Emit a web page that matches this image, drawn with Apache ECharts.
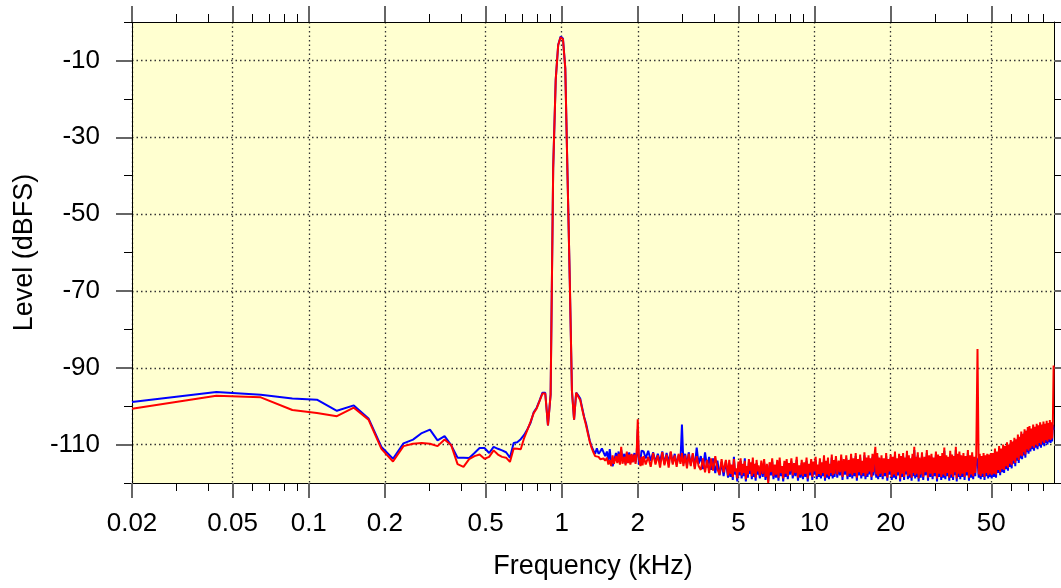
<!DOCTYPE html>
<html>
<head>
<meta charset="utf-8">
<title>Spectrum</title>
<script src="https://cdn.jsdelivr.net/npm/echarts/dist/echarts.min.js"></script>
<style>
    html, body { margin: 0; padding: 0; background: #ffffff; }
    #chart { width: 1061px; height: 588px; }
</style>
</head>
<body>
<div id="chart"></div>
<script>
// tick positions
var xMajor = [0.02, 0.05, 0.1, 0.2, 0.5, 1, 2, 5, 10, 20, 50];
var xMinor = [0.03, 0.04, 0.06, 0.07, 0.08, 0.09, 0.3, 0.4, 0.6, 0.7, 0.8, 0.9,
    3, 4, 6, 7, 8, 9, 30, 40, 60, 70, 80];
var yMajor = [-110, -90, -70, -50, -30, -10];
var yMinor = [-120, -100, -80, -60, -40, -20, 0];

// low band, fft bins (kHz)
var freqLow = [0.02, 0.0431, 0.0646, 0.0861, 0.1077, 0.1292, 0.1507, 0.1723, 0.1938, 0.2153,
    0.2369, 0.2584, 0.2799, 0.3015, 0.3230, 0.3445, 0.3661, 0.3876, 0.4091, 0.4307,
    0.4522, 0.4737, 0.4953, 0.5168, 0.5383, 0.5599, 0.5814, 0.6029, 0.6245, 0.6460,
    0.6675, 0.6891, 0.7106, 0.7321, 0.7537, 0.7752, 0.7967, 0.8183, 0.8398, 0.8613,
    0.8829, 0.9044, 0.9259, 0.9475, 0.9690, 0.9905, 1.0121, 1.0336, 1.0551, 1.0767,
    1.0982, 1.1197, 1.1413, 1.1628, 1.1843, 1.2059, 1.2274, 1.2489, 1.2705, 1.2920,
    1.3135, 1.3351, 1.3566, 1.3781, 1.3997, 1.4212, 1.4427, 1.4643, 1.4858];
var blueLow = [-98.9, -96.3, -97.0, -98.0, -98.3, -101.2, -99.8, -103.2, -110.6, -113.7,
    -109.7, -108.7, -107.0, -106.1, -108.9, -107.8, -110.2, -113.4, -113.4, -113.5,
    -112.2, -110.9, -110.9, -112.2, -110.6, -111.1, -111.5, -112.0, -113.4, -109.6,
    -109.4, -108.6, -107.5, -106.0, -104.3, -101.6, -100.4, -98.5, -96.5, -96.5,
    -105.0, -97.0, -38, -15, -6, -3.8, -4.3, -12, -40, -67,
    -96, -103.5, -96.5, -97.2, -98.0, -100.5, -102.8, -104.5, -106.8, -109.0,
    -110.5, -111.5, -112.4, -111.0, -112.4, -111.8, -111.0, -111.3, -113.0];
var redLow = [-100.7, -97.3, -97.7, -101.0, -101.8, -102.6, -100.4, -103.5, -111.1, -114.4,
    -110.4, -109.8, -109.6, -109.8, -110.4, -108.7, -110.2, -115.1, -115.8, -113.8,
    -113.0, -112.6, -113.7, -113.2, -111.5, -112.6, -113.2, -113.4, -114.5, -111.0,
    -111.1, -111.2, -108.3, -106.2, -104.0, -101.8, -100.6, -98.6, -96.7, -96.7,
    -105.0, -97.0, -38, -15, -6, -4.0, -4.5, -12, -40, -67,
    -96, -103.5, -96.5, -97.5, -98.4, -100.8, -103.0, -105.0, -107.2, -109.3,
    -110.8, -112.0, -113.0, -113.4, -113.2, -113.8, -114.0, -113.6, -114.2];

// 1.5 - 4.6 kHz, harmonics at 2 and 3 kHz
var freqMid = [1.51, 1.53, 1.55, 1.57, 1.59, 1.61, 1.64, 1.66, 1.68, 1.70,
    1.72, 1.74, 1.77, 1.79, 1.81, 1.83, 1.85, 1.87, 1.89, 1.91,
    1.94, 1.96, 1.98, 2.00, 2.02, 2.05, 2.07, 2.09, 2.11, 2.15,
    2.2, 2.25, 2.3, 2.35, 2.4, 2.45, 2.5, 2.55, 2.6, 2.65,
    2.7, 2.75, 2.8, 2.85, 2.9, 2.95, 2.99, 3.03, 3.08, 3.13,
    3.18, 3.24, 3.3, 3.36, 3.42, 3.48, 3.55, 3.62, 3.69, 3.76,
    3.83, 3.9, 3.97, 4.05, 4.13, 4.21, 4.29, 4.37, 4.46, 4.55];
var blueMid = [-111.8, -114.2, -111.2, -115.0, -115.6, -114.4, -112.2, -114.2, -111.8, -114.6,
    -111.4, -113.8, -112.4, -115.0, -112.2, -114.2, -112.0, -114.8, -112.6, -114.4,
    -112.2, -114.6, -112.6, -106.0, -115.2, -114.0, -111.6, -111.2, -111.8, -113.6,
    -111.6, -114.2, -112.0, -114.6, -112.4, -114.4, -111.8, -115.0, -112.2, -114.6,
    -112.0, -114.8, -112.4, -115.2, -112.8, -114.4, -104.8, -114.8, -112.4, -115.4,
    -112.0, -115.2, -112.6, -115.8, -110.8, -115.0, -113.0, -116.4, -112.0, -116.0,
    -113.2, -116.6, -113.6, -117.4, -114.2, -118.0, -114.6, -118.2, -114.4, -118.6];
var redMid = [-113.4, -115.2, -114.0, -115.6, -112.8, -115.0, -113.0, -114.8, -112.4, -115.2,
    -110.6, -115.0, -113.2, -115.4, -111.8, -114.8, -112.6, -115.2, -112.4, -114.6,
    -112.6, -115.0, -112.2, -103.4, -113.4, -115.6, -113.2, -115.4, -113.0, -115.2,
    -113.2, -115.8, -112.2, -115.2, -112.8, -116.0, -112.0, -115.4, -112.6, -116.0,
    -111.8, -115.2, -112.8, -115.8, -112.4, -115.0, -112.2, -115.6, -112.8, -116.2,
    -112.4, -115.6, -112.2, -116.4, -113.0, -115.6, -116.6, -113.6, -117.2, -114.0,
    -117.4, -113.6, -116.8, -113.0, -116.4, -117.8, -113.8, -117.2, -114.0, -118.0];

// 4.6 kHz up to nyquist, dense noise floor, 44.1 kHz spur
var freqTop = [4.60, 4.65, 4.70, 4.75, 4.80, 4.85, 4.90, 4.95, 5.00, 5.05,
    5.10, 5.15, 5.20, 5.25, 5.30, 5.35, 5.40, 5.45, 5.50, 5.55,
    5.60, 5.65, 5.70, 5.75, 5.80, 5.85, 5.90, 5.95, 6.00,
    6.08, 6.16, 6.24, 6.32, 6.40, 6.48, 6.56, 6.64, 6.72, 6.80,
    6.88, 6.96, 7.04, 7.12, 7.20, 7.28, 7.36, 7.44, 7.52, 7.60,
    7.68, 7.76, 7.84, 7.92, 8.00,
    8.1, 8.2, 8.3, 8.4, 8.5, 8.6, 8.7, 8.8, 8.9, 9.0,
    9.1, 9.2, 9.3, 9.4, 9.5, 9.6, 9.7, 9.8, 9.9, 10.0,
    10.1, 10.2, 10.3, 10.4, 10.5, 10.6, 10.7, 10.8, 10.9, 11.0,
    11.1, 11.2, 11.3, 11.4, 11.5, 11.6, 11.7, 11.8, 11.9, 12.0,
    12.15, 12.3, 12.45, 12.6, 12.75, 12.9, 13.05, 13.2, 13.35, 13.5,
    13.65, 13.8, 13.95, 14.1, 14.25, 14.4, 14.55, 14.7, 14.85, 15.0,
    15.15, 15.3, 15.45, 15.6, 15.75, 15.9, 16.05, 16.2, 16.35, 16.5,
    16.65, 16.8, 16.95, 17.1, 17.25, 17.4, 17.55, 17.7, 17.85, 18.0,
    18.2, 18.4, 18.6, 18.8, 19.0, 19.2, 19.4, 19.6, 19.8, 20.0,
    20.2, 20.4, 20.6, 20.8, 21.0, 21.2, 21.4, 21.6, 21.8, 22.0,
    22.2, 22.4, 22.6, 22.8, 23.0, 23.2, 23.4, 23.6, 23.8, 24.0,
    24.2, 24.4, 24.6, 24.8, 25.0, 25.2, 25.4, 25.6, 25.8, 26.0,
    26.3, 26.6, 26.9, 27.2, 27.5, 27.8, 28.1, 28.4, 28.7, 29.0,
    29.3, 29.6, 29.9, 30.2, 30.5, 30.8, 31.1, 31.4, 31.7, 32.0,
    32.3, 32.6, 32.9, 33.2, 33.5, 33.8, 34.1, 34.4, 34.7, 35.0,
    35.3, 35.6, 35.9, 36.2, 36.5, 36.8, 37.1, 37.4, 37.7, 38.0,
    38.4, 38.8, 39.2, 39.6, 40.0, 40.4, 40.8, 41.2, 41.6, 42.0,
    42.4, 42.8, 43.2, 43.6,
    44.1,
    44.6, 45.0, 45.4, 45.8, 46.2, 46.6, 47.0, 47.4, 47.8, 48.2,
    48.6, 49.0, 49.4, 49.8, 50.2,
    50.7, 51.2, 51.7, 52.2, 52.7, 53.2, 53.7, 54.2, 54.7, 55.2,
    55.7, 56.2, 56.7, 57.2, 57.7, 58.2, 58.7, 59.2, 59.7, 60.2,
    60.7, 61.2, 61.7, 62.2, 62.7, 63.2, 63.7, 64.2, 64.7, 65.2,
    65.7, 66.2, 66.7, 67.2, 67.7, 68.2, 68.7, 69.2, 69.7, 70.2,
    70.8, 71.4, 72.0, 72.6, 73.2, 73.8, 74.4, 75.0, 75.6, 76.2,
    76.8, 77.4, 78.0, 78.6, 79.2, 79.8, 80.4, 81.0, 81.6, 82.2,
    82.8, 83.4, 84.0, 84.6, 85.2, 85.8, 86.4, 87.0, 87.6, 88.2];
var blueTop = [-114.8, -118.4, -116.0, -119.2, -113.2, -117.8, -117.0, -119.6, -115.2, -118.0,
    -114.2, -118.8, -115.8, -118.2, -113.6, -119.6, -116.4, -118.6, -114.6, -117.6,
    -115.4, -119.0, -114.2, -118.4, -115.8, -119.4, -114.8, -117.8, -116.2,
    -118.8, -115.0, -118.4, -114.6, -119.2, -115.8, -119.6, -115.4, -118.0, -114.4,
    -119.0, -116.0, -118.6, -114.8, -119.4, -114.2, -118.2, -116.4, -119.6, -115.0,
    -118.4, -114.6, -119.0, -115.6, -117.8,
    -114.4, -118.8, -115.6, -118.2, -114.0, -119.4, -116.2, -118.6, -114.8, -119.0,
    -115.4, -118.4, -114.2, -119.6, -115.8, -118.0, -114.6, -119.2, -115.2, -117.8,
    -114.0, -119.0, -116.0, -118.4, -114.4, -118.8, -115.4, -118.2, -113.6, -119.4,
    -115.0, -118.6, -114.2, -119.0, -115.8, -118.2, -113.4, -118.8, -114.8, -118.4,
    -113.8, -118.6, -115.0, -118.0, -113.4, -119.2, -114.6, -117.8, -113.6, -119.0,
    -114.8, -118.4, -113.2, -118.8, -114.4, -118.2, -113.0, -119.4, -114.6, -118.0,
    -113.4, -118.8, -115.0, -118.2, -112.8, -119.0, -114.2, -118.4, -113.6, -117.8,
    -114.4, -119.2, -113.2, -118.0, -113.8, -114.0, -118.6, -113.0, -119.0, -114.2,
    -118.4, -113.6, -119.0, -114.4, -118.2, -113.0, -119.4, -114.6, -117.8, -113.4,
    -119.2, -114.0, -118.6, -112.6, -119.0, -114.4, -118.0, -113.2, -119.6, -113.8,
    -118.4, -113.0, -119.2, -114.2, -117.8, -112.4, -119.0, -113.6, -118.6, -114.4,
    -119.4, -113.2, -118.2, -111.4, -118.8, -114.0, -118.4, -112.8, -119.6, -114.2,
    -118.6, -112.8, -119.2, -114.0, -118.0, -112.2, -119.4, -113.6, -118.4, -113.2,
    -119.0, -114.2, -118.2, -112.6, -119.6, -113.4, -118.4, -113.8, -119.2, -113.0,
    -118.6, -111.6, -119.0, -113.6, -118.2, -114.0, -119.4, -112.4, -118.6, -113.4,
    -119.2, -113.8, -118.0, -111.4, -119.6, -113.2, -118.4, -112.6, -119.0, -113.6,
    -118.4, -113.0, -119.2, -113.8, -118.0, -112.2, -119.4, -113.6, -118.6, -112.8,
    -119.0, -114.0, -118.2, -113.4,
    -114.0,
    -118.6, -113.2, -119.0, -113.8, -118.4, -113.0, -119.2, -113.6, -118.2, -113.2,
    -118.8, -113.4, -118.4, -113.0, -118.8,
    -113.0, -118.4, -111.8, -118.6, -112.6, -117.4, -111.2, -118.0, -111.8, -117.2,
    -110.8, -117.4, -111.2, -116.4, -110.2, -116.8, -110.8, -115.8, -109.6, -116.2,
    -110.0, -115.0, -109.0, -115.6, -109.4, -114.2, -108.2, -114.8, -108.8, -113.6,
    -107.4, -113.8, -108.0, -112.8, -106.8, -113.4, -107.2, -112.0, -106.2, -112.4,
    -106.0, -111.8, -106.6, -111.2, -105.6, -111.6, -106.2, -110.8, -105.4, -111.2,
    -105.8, -110.4, -105.0, -110.8, -105.6, -110.0, -104.8, -110.4, -105.4, -109.6,
    -104.6, -110.0, -105.2, -109.4, -104.4, -109.6, -105.0, -109.2, -104.8, -106.2];
var redTop = [-114.0, -117.6, -115.2, -118.4, -113.8, -117.0, -116.2, -118.8, -114.4, -117.2,
    -113.6, -118.0, -115.0, -117.4, -114.2, -119.0, -115.6, -117.8, -113.8, -116.8,
    -114.6, -118.2, -113.4, -117.6, -115.0, -118.6, -114.0, -117.0, -115.4,
    -118.0, -114.2, -117.6, -113.8, -118.4, -115.0, -120.0, -114.6, -117.2, -113.6,
    -118.2, -115.2, -117.8, -114.0, -118.6, -113.4, -117.4, -115.6, -118.8, -114.2,
    -117.6, -113.8, -118.2, -114.8, -117.0,
    -113.6, -118.0, -114.8, -117.4, -113.2, -118.6, -115.4, -117.8, -114.0, -118.2,
    -114.6, -117.6, -113.4, -118.8, -115.0, -117.2, -113.8, -118.4, -114.4, -117.0,
    -113.2, -118.2, -115.2, -117.6, -113.6, -118.0, -114.6, -117.4, -112.8, -118.6,
    -114.2, -117.8, -113.4, -118.2, -115.0, -117.4, -112.6, -118.0, -114.0, -117.6,
    -113.0, -117.8, -114.2, -117.2, -112.6, -118.4, -113.8, -117.0, -112.8, -118.2,
    -114.0, -117.6, -112.4, -118.0, -113.6, -117.4, -112.2, -118.6, -113.8, -117.2,
    -112.6, -118.0, -114.2, -117.4, -112.0, -118.2, -113.4, -117.6, -112.8, -117.0,
    -113.6, -118.4, -112.4, -117.2, -113.0, -110.6, -117.8, -112.2, -118.2, -113.4,
    -117.6, -112.8, -118.2, -113.6, -117.4, -112.2, -118.6, -113.8, -117.0, -112.6,
    -118.4, -113.2, -117.8, -111.8, -118.2, -113.6, -117.2, -112.4, -118.8, -113.0,
    -117.6, -112.2, -118.4, -113.4, -117.0, -111.6, -118.2, -112.8, -117.8, -113.6,
    -118.6, -112.4, -117.4, -110.6, -118.0, -113.2, -117.6, -112.0, -118.8, -113.4,
    -117.8, -112.0, -118.4, -113.2, -117.2, -111.4, -118.6, -112.8, -117.6, -112.4,
    -118.2, -113.4, -117.4, -111.8, -118.8, -112.6, -117.6, -113.0, -118.4, -112.2,
    -117.8, -110.8, -118.2, -112.8, -117.4, -113.2, -118.6, -111.6, -117.8, -112.6,
    -118.4, -113.0, -117.2, -110.6, -118.8, -112.4, -117.6, -111.8, -118.2, -112.8,
    -117.6, -112.2, -118.4, -113.0, -117.2, -111.4, -118.6, -112.8, -117.8, -112.0,
    -118.2, -113.2, -117.4, -112.6,
    -85.1,
    -117.8, -112.4, -118.2, -113.0, -117.6, -112.2, -118.4, -112.8, -117.4, -112.4,
    -118.0, -112.6, -117.6, -112.2, -118.0,
    -112.2, -117.6, -111.0, -117.8, -111.8, -116.6, -110.4, -117.2, -111.0, -116.4,
    -110.0, -116.6, -110.4, -115.6, -109.4, -116.0, -110.0, -115.0, -108.8, -115.4,
    -109.2, -114.2, -108.2, -114.8, -108.6, -113.4, -107.4, -114.0, -108.0, -112.8,
    -106.6, -113.0, -107.2, -112.0, -106.0, -112.6, -106.4, -111.2, -105.4, -111.6,
    -105.2, -111.0, -105.8, -110.4, -104.8, -110.8, -105.4, -110.0, -104.6, -110.4,
    -105.0, -109.6, -104.2, -110.0, -104.8, -109.2, -104.0, -109.6, -104.6, -108.8,
    -103.8, -109.2, -104.4, -108.6, -103.6, -108.8, -104.2, -108.4, -104.0, -89.4];

var FONT = 'Liberation Sans';

function pairs(f, v) {
    var out = [];
    var n = Math.min(f.length, v.length);
    for (var i = 0; i < n; i++) {
        out.push([f[i], v[i]]);
    }
    return out;
}

function xAxis(pos, ticks, len, major) {
    var main = major && pos === 'bottom';
    return {
        type: 'log',
        logBase: 10,
        position: pos,
        min: 0.02,
        max: 88.5,
        axisLine: { show: major, onZero: false, lineStyle: { color: '#000', width: 1 } },
        axisTick: {
            show: true, inside: false, length: len, customValues: ticks,
            lineStyle: { color: major ? '#666' : '#000', width: major ? 2 : 1 }
        },
        axisLabel: {
            show: main, customValues: ticks, margin: 28,
            fontFamily: FONT, fontSize: 26, color: '#000',
            formatter: function (v) { return String(+(+v).toPrecision(3)); }
        },
        splitLine: {
            show: main,
            lineStyle: { color: '#333', width: 1.3, type: [1.5, 3] }
        },
        minorTick: { show: false },
        name: main ? 'Frequency (kHz)' : '',
        nameLocation: 'middle',
        nameGap: 70,
        nameTextStyle: { fontFamily: FONT, fontSize: 27, color: '#000' }
    };
}

function yAxis(pos, ticks, len, major) {
    var main = major && pos === 'left';
    return {
        type: 'value',
        position: pos,
        min: -120,
        max: 0,
        axisLine: { show: major, onZero: false, lineStyle: { color: '#000', width: 1 } },
        axisTick: {
            show: true, inside: false, length: len, customValues: ticks,
            lineStyle: { color: major ? '#666' : '#000', width: major ? 2 : 1 }
        },
        axisLabel: {
            show: main, customValues: ticks, margin: 32,
            fontFamily: FONT, fontSize: 26, color: '#000'
        },
        splitLine: {
            show: main,
            lineStyle: { color: '#333', width: 1.3, type: [1.5, 3] }
        },
        name: main ? 'Level (dBFS)' : '',
        nameLocation: 'middle',
        nameGap: 94,
        nameTextStyle: { fontFamily: FONT, fontSize: 27, color: '#000' }
    };
}

window.onload = function () {
    var chart = echarts.init(document.getElementById('chart'), null, { renderer: 'canvas' });

    var blue = pairs(freqLow, blueLow).concat(pairs(freqMid, blueMid), pairs(freqTop, blueTop));
    var red = pairs(freqLow, redLow).concat(pairs(freqMid, redMid), pairs(freqTop, redTop));

    var option = {
        animation: false,
        backgroundColor: '#ffffff',
        grid: {
            left: 132, right: 7, top: 22, bottom: 105,
            show: true, backgroundColor: '#ffffd0', borderWidth: 0
        },
        xAxis: [
            xAxis('bottom', xMajor, 15, true),
            xAxis('bottom', xMinor, 8, false),
            xAxis('top', xMajor, 16, true),
            xAxis('top', xMinor, 8, false)
        ],
        yAxis: [
            yAxis('left', yMajor, 16, true),
            yAxis('left', yMinor, 8, false),
            yAxis('right', yMajor, 8, true),
            yAxis('right', yMinor, 8, false)
        ],
        series: [{
            name: 'blue',
            type: 'line',
            data: blue,
            showSymbol: false,
            lineStyle: { color: '#0000ff', width: 2 },
            z: 3
        }, {
            name: 'red',
            type: 'line',
            data: red,
            showSymbol: false,
            lineStyle: { color: '#ff0000', width: 2 },
            z: 4
        }]
    };

    chart.setOption(option, true);
};
</script>
</body>
</html>
